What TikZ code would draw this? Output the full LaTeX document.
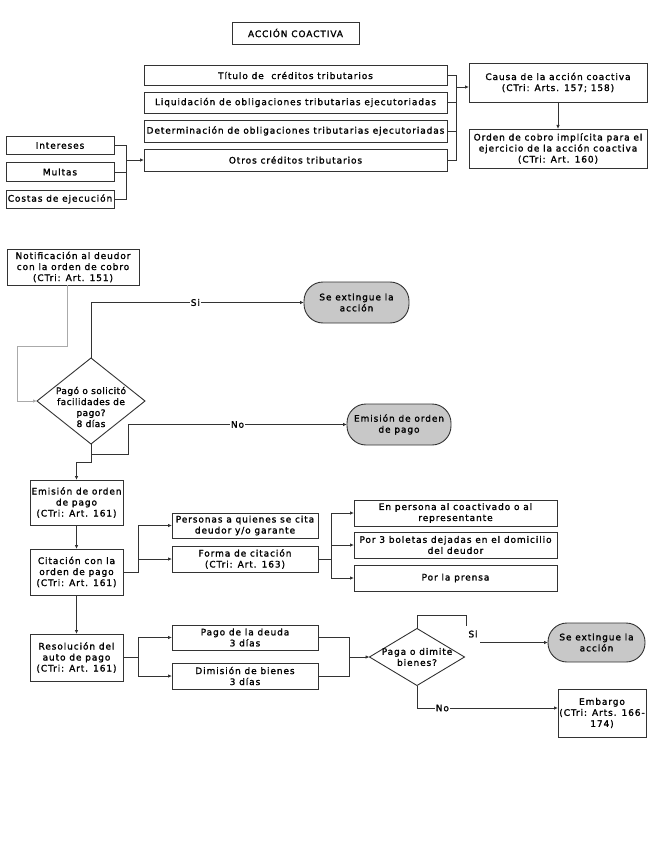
\documentclass[tikz,border=0pt]{standalone}
\usepackage{fontspec}
\setmainfont{DejaVu Sans}[LetterSpace=10,FakeBold=1.5]
\usetikzlibrary{arrows.meta,shapes.geometric,calc}
\definecolor{ln}{HTML}{333333}
\definecolor{lgray}{HTML}{AAAAAA}
\definecolor{termfill}{HTML}{C8C8C8}
\begin{document}
\begin{tikzpicture}[x=1pt,y=-1pt,
  font=\fontsize{9}{11}\selectfont,
  line width=0.8pt,
  box/.style={draw=ln, fill=white, inner sep=0pt, outer sep=0pt, align=center, line width=0.9pt},
  termbox/.style={draw=ln, fill=termfill, rounded corners=19pt, inner sep=0pt, outer sep=0pt, align=center, line width=0.9pt},
  decbox/.style={draw=ln, fill=white, diamond, inner sep=0pt, outer sep=0pt, line width=0.9pt},
  txt/.style={inner sep=0pt, align=center},
  conn/.style={draw=ln, line width=0.8pt},
  arr/.style={conn, -{Latex[length=4pt,width=3.5pt]}},
  arrg/.style={draw=lgray, line width=1pt, -{Latex[length=4pt,width=3.5pt]}},
  lbl/.style={fill=white, inner sep=1pt}]
\useasboundingbox[fill=white] (0,0) rectangle (654,842);

% ---------- top part ----------
\node[box, minimum width=127pt, minimum height=22pt] (title) at (295.5,33) {ACCIÓN COACTIVA};

\node[box, minimum width=303pt, minimum height=20pt] (t1) at (295.5,75.5) {Título de\ \ créditos tributarios};
\node[box, minimum width=303pt, minimum height=21pt] (t2) at (295.5,102.5) {Liquidación de obligaciones tributarias ejecutoriadas};
\node[box, minimum width=303pt, minimum height=22pt] (t3) at (295.5,131) {Determinación de obligaciones tributarias ejecutoriadas};
\node[box, minimum width=303pt, minimum height=22pt] (t4) at (295.5,160) {Otros créditos tributarios};

\node[box, minimum width=108pt, minimum height=18pt] (intereses) at (60,145.5) {Intereses};
\node[box, minimum width=108pt, minimum height=19pt] (multas) at (60,172) {Multas};
\node[box, minimum width=108pt, minimum height=18pt] (costas) at (60,199) {Costas de ejecución};

\node[box, minimum width=178pt, minimum height=39pt] (causa) at (558,82.5) {Causa de la acción coactiva\\(CTri: Arts. 157; 158)};
\node[box, minimum width=178pt, minimum height=39pt] (orden) at (558,148.5) {Orden de cobro implícita para el\\ejercicio de la acción coactiva\\(CTri: Art. 160)};

\coordinate (bL) at (126,160);
\draw[conn] (intereses.east) -| (bL);
\draw[conn] (multas.east) -- (multas.east -| bL);
\draw[conn] (costas.east) -| (bL);
\draw[arr] (bL) -- (t4.west);

\coordinate (bR) at (456,87);
\draw[conn] (t1.east) -| (bR);
\draw[conn] (t2.east) -| (bR);
\draw[conn] (t3.east) -| (bR);
\draw[conn] (t4.east) -| (bR);
\draw[arr] (bR) -- (bR -| causa.west);
\draw[arr] (causa.south) -- (orden.north);

% ---------- middle part ----------
\node[box, minimum width=132pt, minimum height=36pt] (notif) at (73,267) {Notificación al deudor\\con la orden de cobro\\(CTri: Art. 151)};
\node[decbox, minimum width=108pt, minimum height=86pt] (d1) at (91,401) {};
\node[txt, font=\fontsize{9}{11}\selectfont\addfontfeatures{LetterSpace=5}] (d1t) at (91,407) {Pagó o solicitó\\facilidades de\\pago?\\8 días};
\node[termbox, minimum width=105pt, minimum height=41pt] (term1) at (356.5,302.5) {Se extingue la\\acción};
\node[termbox, minimum width=104pt, minimum height=41pt] (term2) at (399,424.5) {Emisión de orden\\de pago};

\draw[arrg] ([xshift=-6pt]notif.south) -- ++(0,61) -| ++(-50,55) -- (d1.west);
\draw[arr] (d1.north) |- node[lbl, pos=0.745] (si1) {Si} (term1.west);
\coordinate (nA) at (128,424.5);
\draw[arr] (d1.south) -- ++(0,10) -| (nA) -- node[lbl, pos=0.5] (no1) {No} (term2.west);

% ---------- lower part ----------
\node[box, minimum width=93pt, minimum height=45pt] (emision) at (76.5,502.5) {Emisión de orden\\de pago\\(CTri: Art. 161)};
\node[box, minimum width=93pt, minimum height=46pt] (citacion) at (76.5,572) {Citación con la\\orden de pago\\(CTri: Art. 161)};
\node[box, minimum width=93pt, minimum height=47pt] (resol) at (76.5,657.5) {Resolución del\\auto de pago\\(CTri: Art. 161)};

\draw[arr] (d1.south) -- ++(0,18) -| (emision.north);
\draw[arr] (emision.south) -- (citacion.north);
\draw[arr] (citacion.south) -- (resol.north);

\node[box, minimum width=146pt, minimum height=25pt] (personas) at (245,525.5) {Personas a quienes se cita\\deudor y/o garante};
\node[box, minimum width=146pt, minimum height=26pt] (forma) at (245,559) {Forma de citación\\(CTri: Art. 163)};

\node[box, minimum width=203pt, minimum height=26pt] (enpersona) at (455.5,513) {En persona al coactivado o al\\representante};
\node[box, minimum width=203pt, minimum height=26pt] (boletas) at (455.5,545) {Por 3 boletas dejadas en el domicilio\\del deudor};
\node[box, minimum width=203pt, minimum height=26pt] (prensa) at (455.5,578) {Por la prensa};

\draw[arr] (citacion.east) -- ++(15,0) |- (personas.west);
\draw[arr] (citacion.east) -- ++(15,0) |- (forma.west);

\draw[arr] (forma.east) -- ++(13,0) |- (enpersona.west);
\draw[arr] (forma.east) -- ++(13,0) |- (boletas.west);
\draw[arr] (forma.east) -- ++(13,0) |- (prensa.west);

\node[box, minimum width=146pt, minimum height=25pt] (pago) at (245,637.5) {Pago de la deuda\\3 días};
\node[box, minimum width=146pt, minimum height=26pt] (dimision) at (245,676) {Dimisión de bienes\\3 días};

\draw[arr] (resol.east) -- ++(15,0) |- (pago.west);
\draw[arr] (resol.east) -- ++(15,0) |- (dimision.west);

\node[decbox, minimum width=95pt, minimum height=57pt] (d2) at (417,657) {};
\node[txt] (d2t) at (417,657) {Paga o dimite\\bienes?};

\coordinate (b3) at (349,657);
\draw[conn] (pago.east) -| (b3);
\draw[conn] (dimision.east) -| (b3);
\draw[arr] (b3) -- (d2.west);

\node[termbox, minimum width=97pt, minimum height=39pt] (term3) at (596.5,642.5) {Se extingue la\\acción};
\node[box, minimum width=88pt, minimum height=48pt] (embargo) at (602,713) {Embargo\\(CTri: Arts. 166-\\174)};

\draw[conn] (d2.north) -- ++(0,-13) -| ++(49,10);
\node[txt] (si2) at (473,634) {Si};
\coordinate (s2) at (480,642.5);
\draw[arr] (s2) -- (term3.west);

\coordinate (e2) at (417,708);
\draw[arr] (d2.south) -- (e2) -- node[lbl, pos=0.18] (no2) {No} (e2 -| embargo.west);
\end{tikzpicture}
\end{document}
